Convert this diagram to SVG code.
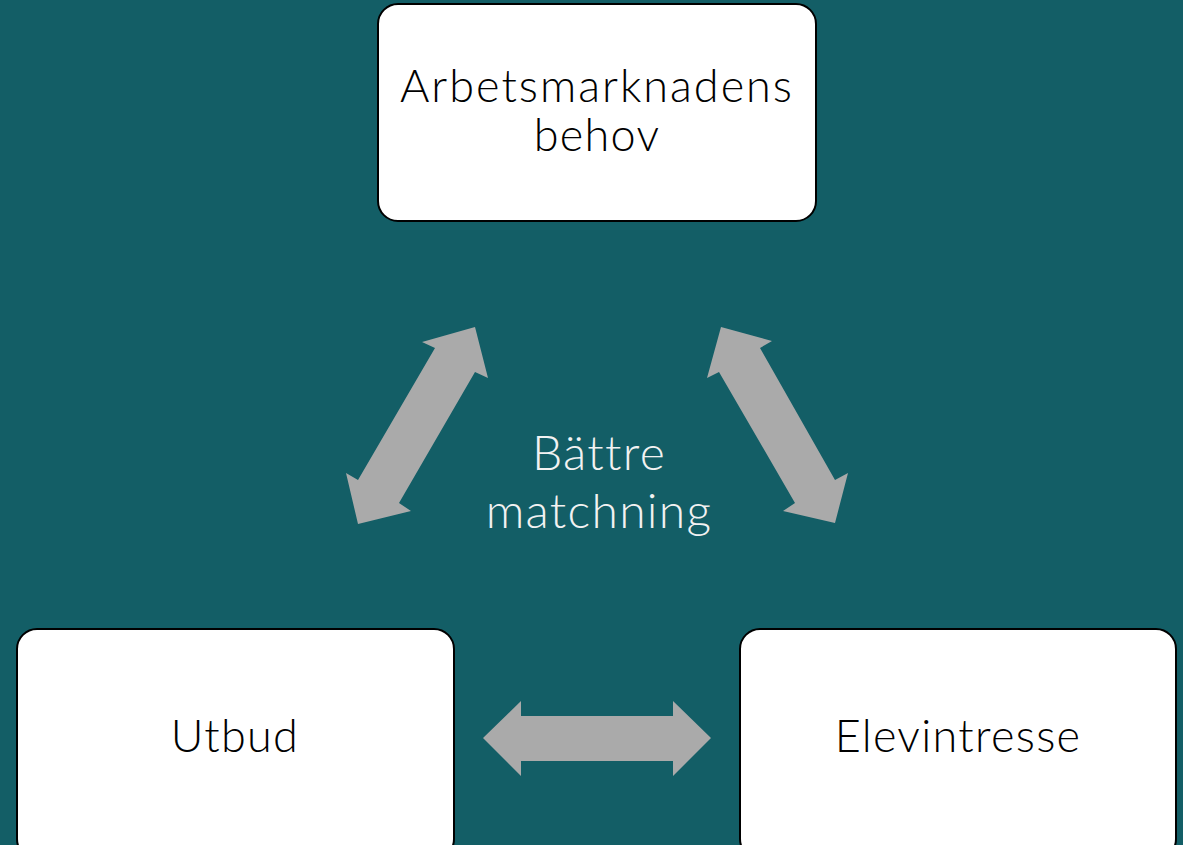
<svg xmlns="http://www.w3.org/2000/svg" width="1183" height="845" viewBox="0 0 1183 845">
<style>
.box{fill:#ffffff;stroke:#000000;stroke-width:2}
.lbl{font-family:Lato,"Noto Sans","DejaVu Sans",sans-serif;font-size:45px;font-weight:300;letter-spacing:1.3px;fill:#000000;text-anchor:middle}
.ctr{font-family:Lato,"Noto Sans","DejaVu Sans",sans-serif;font-size:48px;font-weight:300;letter-spacing:1.3px;fill:#f2f2f2;text-anchor:middle}
.arr{fill:#aaaaaa}
</style>
<rect x="0" y="0" width="1183" height="845" fill="#135e66"/>
<g id="connectors">
<polygon class="arr" points="475,327 488,378 475,372 399,503 411,511 358,524 346,473 358,480 435,348 422,342"/>
<polygon class="arr" points="721,327 707,378 719,372 795,503 783,511 835,523 848,473 835,480 760,348 772,341"/>
<polygon class="arr" points="483,738 521,701 521,716 673,716 673,701 711,738 673,776 673,761 521,761 521,776"/>
</g>
<g id="node-arbetsmarknad">
<rect class="box" x="378" y="4" width="438" height="217" rx="20"/>
<text class="lbl" x="597" y="102" style="letter-spacing:2px">Arbetsmarknadens</text>
<text class="lbl" x="597" y="151">behov</text>
</g>
<g id="node-utbud">
<rect class="box" x="17" y="629" width="437" height="230" rx="20"/>
<text class="lbl" x="235" y="752">Utbud</text>
</g>
<g id="node-elevintresse">
<rect class="box" x="740" y="629" width="436" height="230" rx="20"/>
<text class="lbl" x="958" y="752">Elevintresse</text>
</g>
<g id="center-label">
<text class="ctr" x="599" y="470">Bättre</text>
<text class="ctr" x="599" y="528">matchning</text>
</g>
</svg>
